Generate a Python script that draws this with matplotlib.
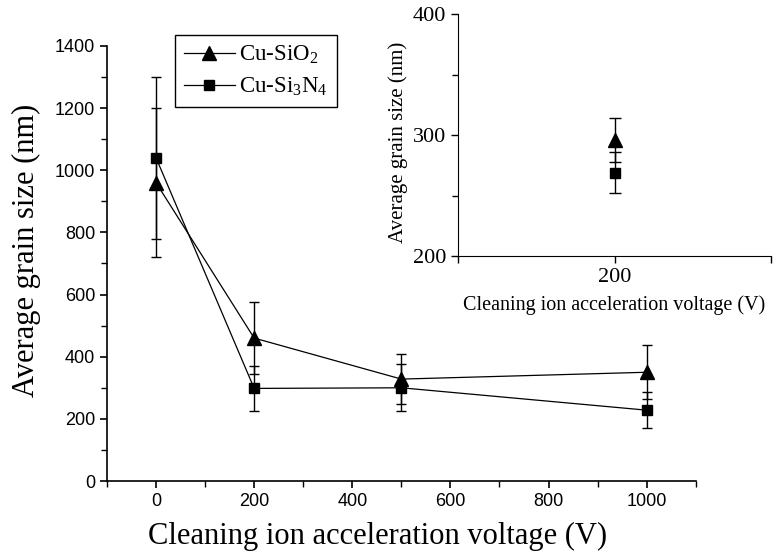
import matplotlib.pyplot as plt
from matplotlib.ticker import MultipleLocator

plt.rcParams['mathtext.fontset'] = 'custom'
plt.rcParams['mathtext.rm'] = 'Liberation Serif'
plt.rcParams['mathtext.it'] = 'Liberation Serif:italic'

# main plot data
voltage = [0, 200, 500, 1000]
sio2 = [960, 460, 328, 350]
sio2_err = [240, 115, 80, 87]
si3n4 = [1040, 298, 300, 228]
si3n4_err = [260, 73, 75, 58]

# inset data (200 V only)
inset_v = [200]
inset_sio2 = [296]
inset_sio2_err = [18]
inset_si3n4 = [269]
inset_si3n4_err = [17]

serif = 'Liberation Serif'
sans = 'Liberation Sans'

fig = plt.figure(figsize=(7.73, 5.52), dpi=100)
ax = fig.add_axes([0.1384, 0.1286, 0.7616, 0.7881])

e1 = ax.errorbar(voltage, sio2, yerr=sio2_err, color='black', marker='^', markersize=9.5,
                 lw=0.9, elinewidth=1.0, capsize=3.5, capthick=1.0)
e2 = ax.errorbar(voltage, si3n4, yerr=si3n4_err, color='black', marker='s', markersize=7,
                 lw=0.9, elinewidth=1.0, capsize=3.5, capthick=1.0)

ax.set_xlim(-100, 1100)
ax.set_ylim(0, 1400)
ax.xaxis.set_major_locator(MultipleLocator(200))
ax.xaxis.set_minor_locator(MultipleLocator(100))
ax.yaxis.set_major_locator(MultipleLocator(200))
ax.yaxis.set_minor_locator(MultipleLocator(100))
for s in ['top', 'right']:
    ax.spines[s].set_visible(False)
for s in ['left', 'bottom']:
    ax.spines[s].set_linewidth(1.2)
ax.tick_params(which='major', direction='out', length=5, width=1.2, labelsize=13)
ax.tick_params(which='minor', direction='out', length=4, width=1.0)
for lab in ax.get_xticklabels() + ax.get_yticklabels():
    lab.set_family(sans)

ax.set_xlabel('Cleaning ion acceleration voltage (V)', family=serif, fontsize=22)
ax.set_ylabel('Average grain size (nm)', family=serif, fontsize=22)
ax.xaxis.set_label_coords(0.46, -0.095)
ax.yaxis.set_label_coords(-0.112, 0.53)

# legend shows only line + marker, no error bars
leg = ax.legend([e1.lines[0], e2.lines[0]], ['Cu-SiO$_2$', 'Cu-Si$_3$N$_4$'],
                loc='upper left', bbox_to_anchor=(175 / 773, 1 - 35 / 552),
                bbox_transform=fig.transFigure, prop={'family': serif, 'size': 16.5},
                fancybox=False, edgecolor='black', framealpha=1, handlelength=2.2,
                borderpad=0.4, labelspacing=0.4, handletextpad=0.2, borderaxespad=0)
leg.get_frame().set_linewidth(1.0)

# inset
ins = fig.add_axes([0.5925, 0.5362, 0.405, 0.4384])
ins.errorbar(inset_v, inset_sio2, yerr=inset_sio2_err, color='black', marker='^',
             markersize=9.5, elinewidth=1.0, capsize=4, capthick=1.0, ls='none')
ins.errorbar(inset_v, inset_si3n4, yerr=inset_si3n4_err, color='black', marker='s',
             markersize=7, elinewidth=1.0, capsize=4, capthick=1.0, ls='none')
ins.set_xlim(100, 300)
ins.set_ylim(200, 400)
ins.set_xticks([100, 200, 300])
ins.set_xticklabels(['', '200', ''])
ins.yaxis.set_major_locator(MultipleLocator(100))
ins.yaxis.set_minor_locator(MultipleLocator(50))
for s in ['top', 'right']:
    ins.spines[s].set_visible(False)
ins.patch.set_alpha(0)
ins.tick_params(which='major', direction='out', length=5, width=1.0, labelsize=16)
ins.tick_params(which='minor', direction='out', length=4, width=1.0)
for lab in ins.get_xticklabels() + ins.get_yticklabels():
    lab.set_family(serif)
ins.set_xlabel('Cleaning ion acceleration voltage (V)', family=serif, fontsize=14.5, labelpad=6)
ins.set_ylabel('Average grain size (nm)', family=serif, fontsize=15, labelpad=4)
ins.yaxis.set_label_coords(-0.16, 0.47)

fig.savefig('out.png', dpi=100)
